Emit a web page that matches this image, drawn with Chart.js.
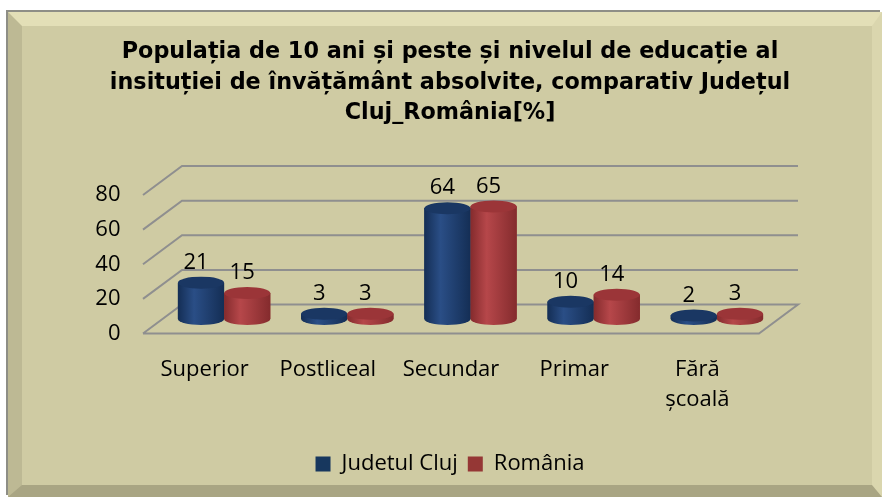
<!DOCTYPE html>
<html lang="ro">
<head>
<meta charset="UTF-8">
<title>Populația de 10 ani și peste - nivel de educație</title>
<style>
    html, body { margin: 0; padding: 0; background: #fff; }
    body { width: 882px; height: 497px; position: relative; overflow: hidden; }
    /* rama cu margine tesita */
    .panou {
        position: absolute; left: 8px; top: 12px;
        width: 874px; height: 485px; box-sizing: border-box;
        background: #CFCBA3;
        border-style: solid;
        border-width: 14px 10px 12px 14px;
        border-color: #E3DFB7 #DAD6AE #A9A583 #BDB994;
        box-shadow: -2px -2px 0 0 #8E8E86;
    }
    #grafic { position: absolute; left: 0; top: 0; }
</style>
<script src="https://cdn.jsdelivr.net/npm/chart.js"></script>
</head>
<body>
<div class="panou"></div>
<canvas id="grafic" width="882" height="497"></canvas>
<script>
// date
const categorii = ['Superior', 'Postliceal', 'Secundar', 'Primar', ['Fără', 'școală']];
const judetulCluj = [21, 3, 64, 10, 2];
const romania = [15, 3, 65, 14, 3];
const valoriAxaY = [0, 20, 40, 60, 80];

// adancimea 3D (jumatate din podea)
const adX = 19.5, adY = 14.5;
const fontText = 'Open Sans';

const paleta = [
    { plin: '#17375E', mijloc: '#2A4E86', margine: '#142E55', capac: '#1A3763' },
    { plin: '#953735', mijloc: '#B6474A', margine: '#842B2D', capac: '#9B3538' }
];

// grila in perspectiva (perete din spate + diagonale + podea)
const grila3D = {
    id: 'grila3D',
    beforeDatasetsDraw(chart) {
        const ctx = chart.ctx;
        const y = chart.scales.y;
        const L = chart.chartArea.left, R = chart.chartArea.right;
        ctx.save();
        ctx.strokeStyle = '#8F8F8F';
        ctx.lineWidth = 2;
        valoriAxaY.forEach(v => {
            const py = y.getPixelForValue(v);
            ctx.beginPath();
            ctx.moveTo(L - adX, py + adY);
            ctx.lineTo(L + adX, py - adY);
            ctx.lineTo(R + adX, py - adY);
            if (v === valoriAxaY[0]) {
                ctx.lineTo(R - adX, py + adY);
                ctx.lineTo(L - adX, py + adY);
            }
            ctx.stroke();
        });
        ctx.restore();
    }
};

function cilindru(ctx, bara, c) {
    const rx = bara.width / 2, ry = 6;
    const x0 = bara.x - rx, x1 = bara.x + rx;
    const g = ctx.createLinearGradient(x0, 0, x1, 0);
    g.addColorStop(0, c.margine);
    g.addColorStop(0.35, c.mijloc);
    g.addColorStop(1, c.margine);
    ctx.fillStyle = g;
    ctx.beginPath();
    ctx.moveTo(x0, bara.y);
    ctx.lineTo(x0, bara.base);
    ctx.ellipse(bara.x, bara.base, rx, ry, 0, Math.PI, 0, true);
    ctx.lineTo(x1, bara.y);
    ctx.closePath();
    ctx.fill();
    ctx.fillStyle = c.capac;
    ctx.beginPath();
    ctx.ellipse(bara.x, bara.y, rx, ry, 0, 0, Math.PI * 2);
    ctx.fill();
}

const cilindri = {
    id: 'cilindri',
    afterDatasetsDraw(chart) {
        const ctx = chart.ctx;
        ctx.save();
        chart.data.datasets.forEach((ds, i) => {
            chart.getDatasetMeta(i).data.forEach(bara => cilindru(ctx, bara, paleta[i]));
        });
        // etichete valori
        ctx.fillStyle = '#000';
        ctx.font = '22px "' + fontText + '"';
        ctx.textAlign = 'center';
        ctx.textBaseline = 'middle';
        chart.data.datasets.forEach((ds, i) => {
            chart.getDatasetMeta(i).data.forEach((bara, j) => {
                ctx.fillText(ds.data[j], bara.x - 5, bara.y - 20);
            });
        });
        ctx.restore();
    }
};

new Chart(document.getElementById('grafic'), {
    type: 'bar',
    data: {
        labels: categorii,
        datasets: [
            { label: 'Judetul Cluj', data: judetulCluj, backgroundColor: paleta[0].plin, borderWidth: 0 },
            { label: 'România', data: romania, backgroundColor: paleta[1].plin, borderWidth: 0 }
        ]
    },
    options: {
        responsive: false,
        animation: false,
        devicePixelRatio: 1,
        layout: { padding: { left: 62.5, right: 44.5, top: 0, bottom: 12 } },
        datasets: { bar: { categoryPercentage: 0.75, barPercentage: 1 } },
        scales: {
            x: {
                grid: { display: false, drawTicks: false },
                border: { display: false },
                afterFit: s => { s.height = 124; },
                ticks: {
                    padding: 36, labelOffset: -19.5, color: '#000',
                    maxRotation: 0, autoSkip: false,
                    font: { family: fontText, size: 22, lineHeight: '30px' }
                }
            },
            y: {
                min: 0, max: 80,
                afterBuildTicks: s => { s.ticks = valoriAxaY.map(v => ({ value: v })); },
                afterFit: s => { s.width = 100; },
                grid: { display: false, drawTicks: false },
                border: { display: false },
                ticks: {
                    padding: 42, labelOffset: adY, color: '#000',
                    font: { family: fontText, size: 22 }
                }
            },
            // spatiu gol in dreapta, pentru ca titlul sa ramana centrat
            dreapta: {
                type: 'linear', position: 'right', display: true,
                afterFit: s => { s.width = 59; },
                grid: { display: false, drawTicks: false },
                border: { display: false },
                ticks: { display: false }
            }
        },
        plugins: {
            title: {
                display: true,
                text: ['Populația de 10 ani și peste și nivelul de educație al',
                       'insituției de învățământ absolvite, comparativ Județul',
                       'Cluj_România[%]'],
                color: '#000',
                font: { family: 'DejaVu Sans', size: 22.3, weight: 'bold', lineHeight: '30.5px' },
                padding: { top: 37, bottom: 52 }
            },
            legend: {
                position: 'bottom',
                labels: {
                    boxWidth: 15, boxHeight: 15, padding: 10, color: '#000',
                    font: { family: fontText, size: 22 }
                }
            },
            tooltip: { enabled: false }
        }
    },
    plugins: [grila3D, cilindri]
});
</script>
</body>
</html>
